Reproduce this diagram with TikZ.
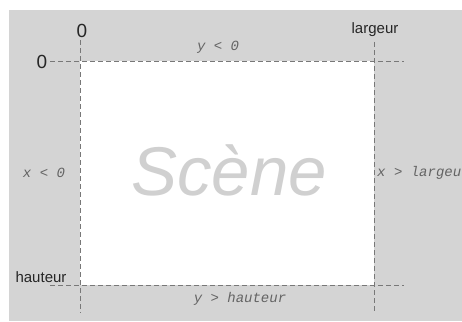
\documentclass[tikz,border=0pt]{standalone}
\usepackage{fontspec}
\setmainfont{Liberation Sans}
\setmonofont{Liberation Mono}
\usepackage{tikz}
\usetikzlibrary{positioning,calc}
\definecolor{fondgris}{RGB}{212,212,212}
\definecolor{traitgris}{RGB}{120,120,120}
\definecolor{textegris}{RGB}{100,100,100}
\definecolor{scenegris}{RGB}{208,208,208}

\begin{document}
\begin{tikzpicture}[x=1pt, y=-1pt,
    borne/.style={dashed, dash pattern=on 5pt off 3pt, draw=traitgris, line width=0.8pt},
    repere/.style={inner sep=0pt, font=\fontsize{15}{15}\selectfont, text=black!85},
    zero/.style={inner sep=0pt, font=\fontsize{19}{19}\selectfont, text=black!85},
    cond/.style={inner sep=0pt, font=\ttfamily\itshape\fontsize{14}{14}\selectfont, text=textegris}
]
\useasboundingbox (0,0) rectangle (462,321);
\fill[fondgris] (9,10) rectangle (462,321);
\fill[white] (80,61) rectangle (374,285);
% ends of the dashed lines
\coordinate (hg) at (50,61);   \coordinate (hd) at (404,61);
\coordinate (bg) at (50,285);  \coordinate (bd) at (404,285);
\coordinate (gh) at (80,40);   \coordinate (gb) at (80,313);
\coordinate (dh) at (374,42);  \coordinate (db) at (374,313);
\draw[borne] (hg) -- (hd);
\draw[borne] (bg) -- (bd);
\draw[borne] (gh) -- (gb);
\draw[borne] (dh) -- (db);
% labels
\node[zero] (zx) at (82,31) {0};
\node[zero] (zy) at (42,62) {0};
\node[repere] (larg) at (375,30) {largeur};
\node[repere] (haut) at (41,277) {hauteur};
\node[cond] (yneg) at (218,47) {y < 0};
\node[cond] (xneg) at (44,173) {x < 0};
\node[cond, anchor=west] (xpos) at (377,173) {x > largeur};
\node[cond] (ypos) at (240,299) {y > hauteur};
\node[inner sep=0pt, font=\itshape\fontsize{69}{69}\selectfont, text=scenegris] (scene) at (229,170) {Scène};
\end{tikzpicture}
\end{document}
